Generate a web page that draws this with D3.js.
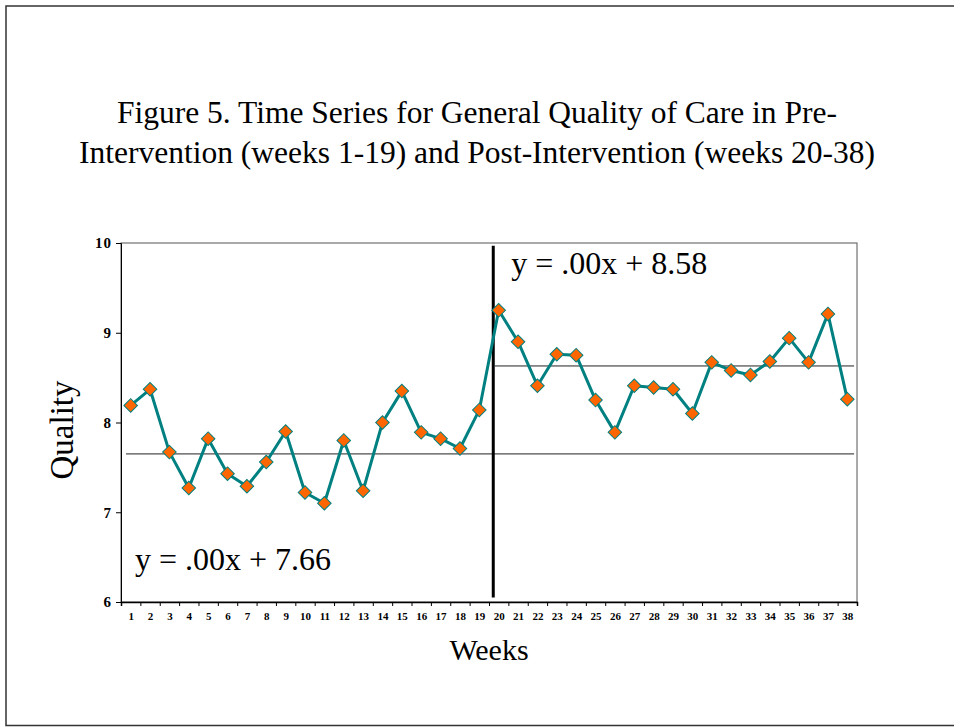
<!DOCTYPE html>
<html>
<head>
<meta charset="utf-8">
<script src="https://cdn.jsdelivr.net/npm/d3@7"></script>
<style>
  body { margin: 0; background: #fff; }
  text { font-family: "Liberation Serif", "Times New Roman", serif; }
</style>
</head>
<body>
<div id="chart"></div>
<script>
// weekly quality scores, weeks 1-38
var weeks = d3.range(1, 39);
var quality = [8.19, 8.37, 7.67, 7.27, 7.82, 7.43, 7.29, 7.56, 7.90, 7.22,
               7.10, 7.80, 7.24, 8.00, 8.35, 7.89, 7.82, 7.71, 8.14,
               9.25, 8.90, 8.41, 8.76, 8.75, 8.25, 7.89, 8.41, 8.39, 8.37,
               8.10, 8.67, 8.58, 8.53, 8.68, 8.94, 8.67, 9.21, 8.26];
var yTicks = [6, 7, 8, 9, 10];
// fitted level lines (pre, post)
var fitLevels = [7.65, 8.63];
var fitStart = [0.76, 19.8];
var fitEnd = 38.35;
var fitLabels = ["y = .00x + 7.66", "y = .00x + 8.58"];
var interventionAt = 19.72;

var W = 954, H = 728;
var margin = {top: 243, right: 97, bottom: 126, left: 121},
    width = W - margin.left - margin.right,
    height = H - margin.top - margin.bottom;

var svg = d3.select("#chart").append("svg")
    .attr("width", W)
    .attr("height", H);

// slide frame
svg.append("rect")
    .attr("x", 6).attr("y", 6)
    .attr("width", W + 10).attr("height", 719.5)
    .attr("fill", "none")
    .attr("stroke", "#333")
    .attr("stroke-width", 1.5);

// title
var title = svg.append("text")
    .attr("text-anchor", "middle")
    .attr("font-size", "31.5px")
    .attr("fill", "#000");
title.append("tspan").attr("x", 477).attr("y", 123)
    .text("Figure 5. Time Series for General Quality of Care in Pre-");
title.append("tspan").attr("x", 477).attr("y", 163)
    .text("Intervention (weeks 1-19) and Post-Intervention (weeks 20-38)");

var g = svg.append("g")
    .attr("transform", "translate(" + margin.left + "," + margin.top + ")");

var x = d3.scaleLinear().domain([0.5, 38.5]).range([0, width]);
var y = d3.scaleLinear().domain([6, 10]).range([height, 0]);

// plot border
g.append("rect")
    .attr("width", width).attr("height", height)
    .attr("fill", "none")
    .attr("stroke", "#555")
    .attr("stroke-width", 1);

// y axis
g.append("g")
    .call(d3.axisLeft(y).tickValues(yTicks).tickSize(5).tickPadding(4).tickFormat(d3.format("d")))
    .call(function(a) {
      a.select(".domain").attr("stroke", "#000");
      a.selectAll("text")
        .attr("font-family", "Liberation Serif, serif")
        .attr("font-weight", "bold")
        .attr("font-size", "15px")
        .attr("letter-spacing", "1px")
        .attr("fill", "#000");
    });

// x axis ticks between categories
g.append("g")
    .attr("transform", "translate(0," + height + ")")
    .call(d3.axisBottom(x).tickValues(d3.range(0.5, 39, 1)).tickSize(4).tickFormat(""))
    .call(function(a) { a.select(".domain").attr("stroke", "#000").attr("stroke-width", 1.5); });

// x axis labels centred on weeks
g.append("g")
    .attr("transform", "translate(0," + height + ")")
    .call(d3.axisBottom(x).tickValues(weeks).tickSize(0).tickPadding(10).tickFormat(d3.format("d")))
    .call(function(a) {
      a.select(".domain").remove();
      a.selectAll("text")
        .attr("font-family", "Liberation Serif, serif")
        .attr("font-weight", "bold")
        .attr("font-size", "11px")
        .attr("fill", "#000");
    });

// fitted level lines
g.selectAll(".fit")
  .data(fitLevels)
  .enter()
  .append("line")
    .attr("x1", function(d, i) { return x(fitStart[i]); })
    .attr("x2", x(fitEnd))
    .attr("y1", function(d) { return y(d); })
    .attr("y2", function(d) { return y(d); })
    .attr("stroke", "#222")
    .attr("stroke-width", 1);

// intervention divider
g.append("line")
    .attr("x1", x(interventionAt)).attr("x2", x(interventionAt))
    .attr("y1", y(9.97)).attr("y2", y(6.05))
    .attr("stroke", "#000")
    .attr("stroke-width", 3);

// series line
var line = d3.line()
    .x(function(d, i) { return x(weeks[i]); })
    .y(function(d) { return y(d); });

g.append("path")
    .datum(quality)
    .attr("d", line)
    .attr("fill", "none")
    .attr("stroke", "#008080")
    .attr("stroke-width", 3)
    .attr("stroke-linejoin", "round");

// diamond markers
var diamond = d3.symbol().type(d3.symbolSquare).size(92);
g.selectAll(".pt")
  .data(quality)
  .enter()
  .append("path")
    .attr("d", diamond)
    .attr("transform", function(d, i) {
      return "translate(" + x(weeks[i]) + "," + y(d) + ") rotate(45)";
    })
    .attr("fill", "#FF6600")
    .attr("stroke", "#008080")
    .attr("stroke-width", 1);

// equation labels
g.append("text")
    .attr("x", 14).attr("y", y(6.36))
    .attr("font-size", "32px")
    .text(fitLabels[0]);

g.append("text")
    .attr("x", x(20.65)).attr("y", y(9.66))
    .attr("font-size", "32px")
    .text(fitLabels[1]);

// axis titles
svg.append("text")
    .attr("text-anchor", "middle")
    .attr("x", 489).attr("y", 660)
    .attr("font-size", "30px")
    .text("Weeks");

svg.append("text")
    .attr("text-anchor", "middle")
    .attr("transform", "translate(73,430) rotate(-90)")
    .attr("font-size", "33px")
    .text("Quality");
</script>
</body>
</html>
